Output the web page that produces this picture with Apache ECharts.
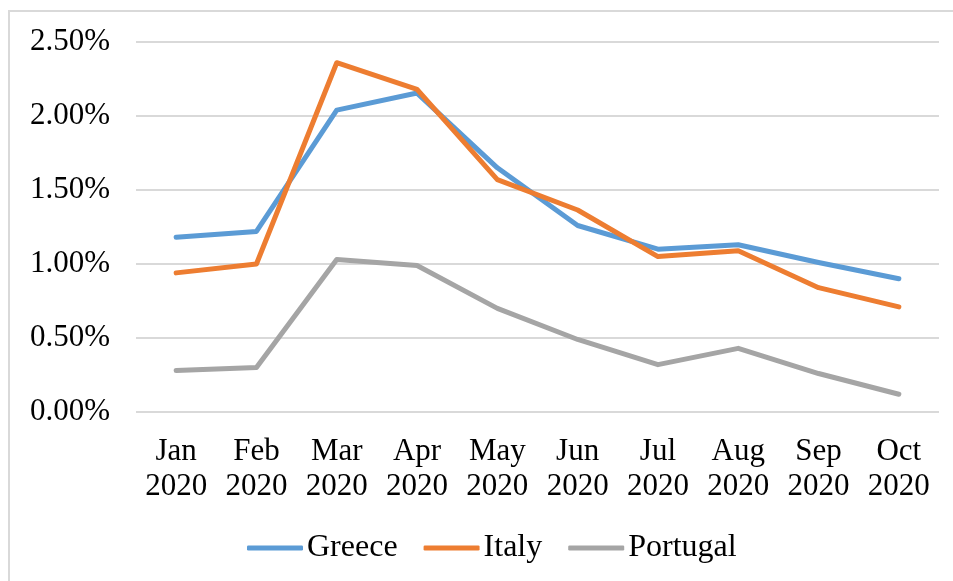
<!DOCTYPE html>
<html>
<head>
<meta charset="utf-8">
<script src="https://cdn.jsdelivr.net/npm/echarts@6/dist/echarts.min.js"></script>
<style>
  html, body { margin: 0; padding: 0; background: #fff; }
  #main { width: 953px; height: 581px; }
</style>
</head>
<body>
<div id="main"></div>
<script>
  // months on the x axis
  var months = ['Jan\n2020', 'Feb\n2020', 'Mar\n2020', 'Apr\n2020', 'May\n2020',
                'Jun\n2020', 'Jul\n2020', 'Aug\n2020', 'Sep\n2020', 'Oct\n2020'];
  // values in percent
  var greece   = [1.18, 1.22, 2.04, 2.155, 1.65, 1.26, 1.10, 1.13, 1.01, 0.90];
  var italy    = [0.94, 1.00, 2.36, 2.18, 1.57, 1.365, 1.05, 1.09, 0.84, 0.71];
  var portugal = [0.28, 0.30, 1.03, 0.99, 0.70, 0.49, 0.32, 0.43, 0.26, 0.12];

  var font = '"Liberation Serif", "Times New Roman", serif';

  function mkLine(name, data, color) {
    return {
      name: name,
      type: 'line',
      data: data,
      symbol: 'none',
      smooth: false,
      lineStyle: { color: color, width: 5, cap: 'round', join: 'round' },
      itemStyle: { color: color }
    };
  }

  var myChart = echarts.init(document.getElementById('main'));
  var option = {
    animation: false,
    backgroundColor: '#fff',
    graphic: [{
      type: 'rect',
      shape: { x: 9, y: 11, width: 980, height: 620 },
      style: { fill: 'none', stroke: '#d9d9d9', lineWidth: 2 },
      silent: true
    }],
    legend: {
      bottom: 12,
      left: 242,
      itemWidth: 56,
      itemHeight: 5,
      itemGap: 26,
      icon: 'roundRect',
      textStyle: { fontFamily: font, fontSize: 32, color: '#000', padding: [0, 0, 0, -1] },
      data: ['Greece', 'Italy', 'Portugal']
    },
    grid: { left: 136, right: 14, top: 42, bottom: 169, containLabel: false },
    xAxis: {
      type: 'category',
      data: months,
      boundaryGap: true,
      axisLine: { show: false },
      axisTick: { show: false },
      axisLabel: {
        interval: 0,
        margin: 22,
        fontFamily: font,
        fontSize: 31,
        lineHeight: 35,
        color: '#000'
      }
    },
    yAxis: {
      type: 'value',
      min: 0,
      max: 2.5,
      interval: 0.5,
      axisLine: { show: false },
      axisTick: { show: false },
      splitLine: { lineStyle: { color: '#d9d9d9', width: 2 } },
      axisLabel: {
        margin: 26,
        fontFamily: font,
        fontSize: 31,
        color: '#000',
        formatter: function (v) { return v.toFixed(2) + '%'; }
      }
    },
    series: [
      mkLine('Greece', greece, '#5B9BD5'),
      mkLine('Italy', italy, '#ED7D31'),
      mkLine('Portugal', portugal, '#A5A5A5')
    ]
  };
  myChart.setOption(option);
</script>
</body>
</html>
